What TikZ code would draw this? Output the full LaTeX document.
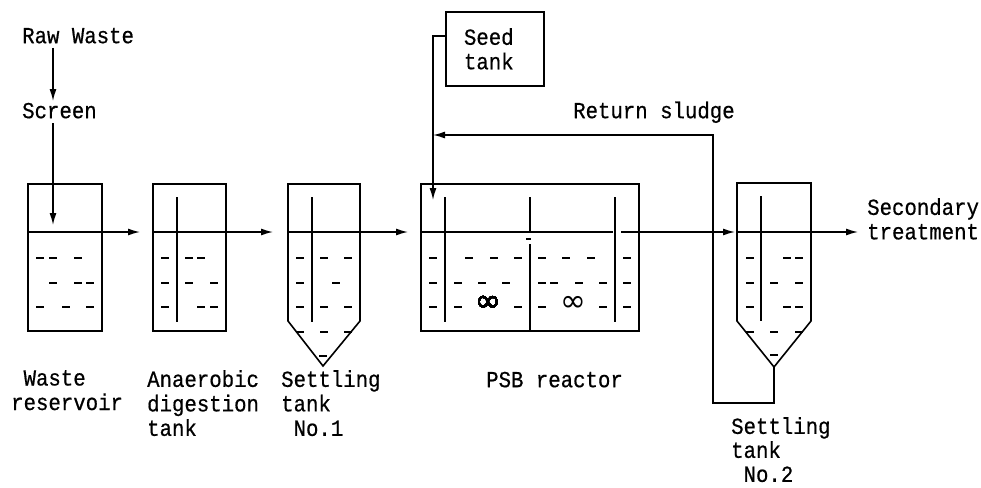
\documentclass[tikz,border=0pt]{standalone}
\usepackage{fontspec}
\setmainfont[FakeStretch=0.9,FakeBold=0.6]{Liberation Mono}
\newfontfamily\symf{DejaVu Sans}
\usetikzlibrary{arrows.meta}
\tikzset{
  x=1pt,y=-1pt,
  tank/.style={draw,line width=1.6pt,line join=miter},
  wline/.style={line width=1.5pt},
  flow/.style={line width=1.4pt,-{Latex[length=12pt,width=7pt]}},
  lab/.style={font=\fontsize{23}{24.5}\selectfont,align=left,anchor=north west,inner sep=0pt,execute at begin node={\rule{0pt}{17pt}}},
  sl/.style={line width=1.6pt},
  inf/.style={font=\fontsize{31}{31}\symf,inner sep=0pt}
}
\newcommand{\dsh}[2]{\draw[sl] (#1-4,#2)--(#1+4,#2);}
\begin{document}
\begin{tikzpicture}
\useasboundingbox (0,0) rectangle (981,487);
% nodes
\node[lab] (raw) at (22,26) {Raw Waste};
\node[lab] (scr) at (22,101) {Screen};
\node[lab] (ret) at (573,101) {Return sludge};
\node[lab] (sec) at (867,198) {Secondary\\treatment};
\node[lab] (l1) at (11,370) {\ Waste\\reservoir};
\node[lab] (l2) at (147,370) {Anaerobic\\digestion\\tank};
\node[lab] (l3) at (281,370) {Settling\\tank\\\ No.1};
\node[lab] (l4) at (486,370) {PSB reactor};
\node[lab,font=\fontsize{23}{24}\selectfont] (l5) at (731,417) {Settling\\tank\\\ No.2};
\node[draw,line width=1.6pt,minimum width=98pt,minimum height=74pt,inner sep=0pt,lab,anchor=north west] (seed) at (445,11) {Seed\hspace*{12pt}\\tank\hspace*{12pt}};
% tanks
\draw[tank] (28,184) rectangle (102,331);
\draw[tank] (153,184) rectangle (226,331);
\draw[tank] (288,184)--(360,184)--(360,321)--(323,366)--(288,321)--cycle;
\draw[tank] (421,184) rectangle (639,331);
\draw[tank] (737,183)--(811,183)--(811,321)--(774,367)--(737,321)--cycle;
% baffles
\foreach \x/\a/\b in {177/197/322,312/197/322,445/197/322,530/197/232,530/244/331,615/197/322,761/196/321}
  \draw[wline] (\x,\a)--(\x,\b);
\draw[wline] (526,239)--(531,239);
% water lines / flows
\coordinate (f1a) at (28,232); \coordinate (f1b) at (140,232);
\coordinate (f2a) at (153,232); \coordinate (f2b) at (273,232);
\coordinate (f3a) at (288,232); \coordinate (f3b) at (408,232);
\coordinate (f4a) at (421,232); \coordinate (f4b) at (613,232);
\coordinate (f5a) at (621,232); \coordinate (f5b) at (735,232);
\coordinate (f6a) at (737,232); \coordinate (f6b) at (858,232);
\draw[flow] (f1a)--(f1b);
\draw[flow] (f2a)--(f2b);
\draw[flow] (f3a)--(f3b);
\draw[wline] (f4a)--(f4b);
\draw[flow] (f5a)--(f5b);
\draw[flow] (f6a)--(f6b);
% feed
\coordinate (ra) at (53,48); \coordinate (rb) at (53,101);
\coordinate (sa) at (53,123); \coordinate (sb) at (53,225);
\draw[flow] (ra)--(rb);
\draw[flow] (sa)--(sb);
% seed and return
\coordinate (s1) at (433,36);
\coordinate (s2) at (433,200);
\draw[flow] (seed.west|-s1)--(s1)--(s2);
\coordinate (r0) at (774,367); \coordinate (r1) at (774,403);
\coordinate (r2) at (713,403); \coordinate (r3) at (713,135);
\coordinate (r4) at (433,135);
\draw[flow] (r0)--(r1)--(r2)--(r3)--(r4);
% dashes
\foreach \x/\y in {40/258,53/258,78/258,53/283,78/283,90/283,40/307,66/307,90/307,
 165/258,189/258,201/258,165/283,189/283,214/283,165/307,201/307,214/307,
 300/258,324/258,348/258,300/283,336/283,300/307,324/307,348/307,300/332,324/332,348/332,323/356,
 433/258,469/258,494/258,518/258,542/258,566/258,591/258,627/258,
 433/283,458/283,482/283,506/283,542/283,554/283,579/283,603/283,627/283,
 433/307,458/307,518/307,542/307,603/307,627/307,
 750/258,787/258,799/258,750/283,774/283,799/283,750/307,787/307,799/307,750/332,774/332,799/332,774/355}
  \dsh{\x}{\y}
\node[inf] (i1) at (488,304) {∞};
\node[inf] (i2) at (573,304) {∞};
\end{tikzpicture}
\end{document}
